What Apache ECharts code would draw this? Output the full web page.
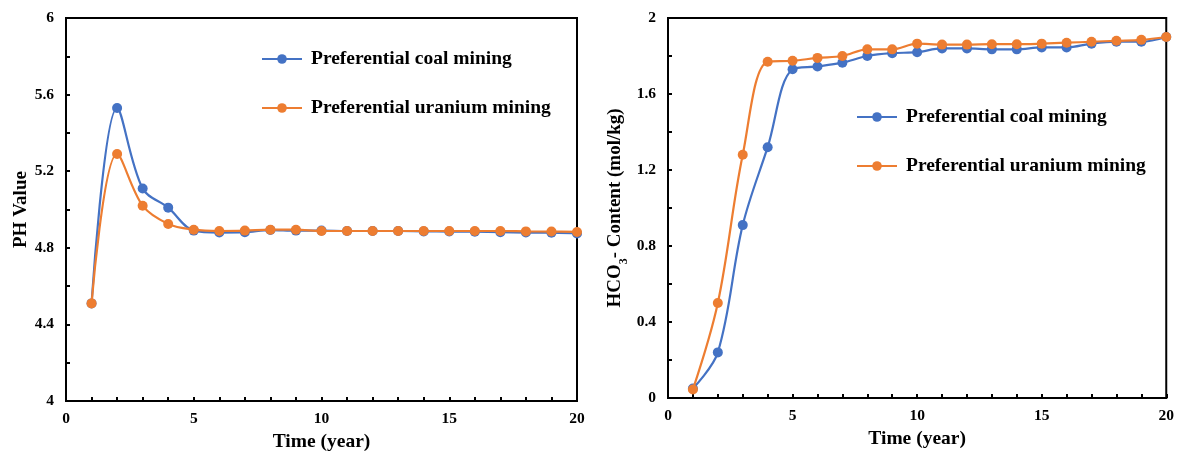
<!DOCTYPE html>
<html><head><meta charset="utf-8">
<script src="https://cdn.jsdelivr.net/npm/echarts@6/dist/echarts.min.js"></script>
<style>html,body{margin:0;padding:0;background:#fff}#c{width:1177px;height:457px}</style>
</head><body><div id="c"></div>
<script>
const years = [1,2,3,4,5,6,7,8,9,10,11,12,13,14,15,16,17,18,19,20];
const phCoal = [4.51,5.53,5.11,5.01,4.89,4.88,4.882,4.893,4.89,4.89,4.888,4.888,4.888,4.886,4.885,4.884,4.882,4.88,4.879,4.875];
const phUranium = [4.51,5.29,5.02,4.925,4.895,4.888,4.89,4.895,4.895,4.888,4.888,4.888,4.888,4.888,4.888,4.888,4.888,4.886,4.885,4.883];
const hcoCoal = [0.05,0.24,0.91,1.32,1.73,1.745,1.765,1.80,1.815,1.82,1.84,1.84,1.835,1.835,1.845,1.845,1.865,1.875,1.875,1.90];
const hcoUranium = [0.045,0.50,1.28,1.77,1.775,1.79,1.80,1.835,1.835,1.865,1.86,1.86,1.862,1.862,1.865,1.87,1.875,1.88,1.885,1.90];
const seriesNames = ['Preferential coal mining','Preferential uranium mining'];
const xTitle = 'Time (year)';
const yTitleLeft = 'PH Value';

const BLUE = '#4472C4', ORANGE = '#ED7D31';
const FONT = '"Liberation Serif", "Times New Roman", serif';
const pair = (xs, ys) => xs.map((x, i) => [x, ys[i]]);

function xAxisCfg(gi){
  return {gridIndex: gi, type:'value', min:0, max:20, interval:5,
    axisLine:{show:true, lineStyle:{color:'#000', width:2}},
    axisTick:{show:true, inside:true, length:4, lineStyle:{color:'#000', width:2}},
    minorTick:{show:true, splitNumber:5, length:4, lineStyle:{color:'#000', width:2}},
    axisLabel:{color:'#000', fontFamily:FONT, fontWeight:'bold', fontSize:15.5, margin:10},
    splitLine:{show:false},
    name:xTitle, nameLocation:'middle', nameGap:30,
    nameTextStyle:{color:'#000', fontFamily:FONT, fontWeight:'bold', fontSize:19.5}};
}
function yAxisCfg(gi, min, max, interval, name, nameGap, rich){
  return {gridIndex: gi, type:'value', min:min, max:max, interval:interval,
    axisLine:{show:true, lineStyle:{color:'#000', width:2}},
    axisTick:{show:true, inside:true, length:4, lineStyle:{color:'#000', width:2}},
    minorTick:{show:true, splitNumber:2, length:4, lineStyle:{color:'#000', width:2}},
    axisLabel:{color:'#000', fontFamily:FONT, fontWeight:'bold', fontSize:15.5, margin:12},
    splitLine:{show:false},
    name:name, nameLocation:'middle', nameGap:nameGap,
    nameTextStyle:{color:'#000', fontFamily:FONT, fontWeight:'bold', fontSize:19, rich:rich}};
}
function lineSeries(name, data, color, xi){
  return {name:name, type:'line', xAxisIndex:xi, yAxisIndex:xi, data:data, smooth:0.35,
    symbol:'circle', symbolSize:10, showSymbol:true,
    lineStyle:{color:color, width:2.2}, itemStyle:{color:color}, z:color===ORANGE?3:2};
}
const richSub = {
  sub:{fontFamily:FONT, fontWeight:'bold', fontSize:12, color:'#000', verticalAlign:'bottom', padding:[0,0,-5,0]},
  base:{fontFamily:FONT, fontWeight:'bold', fontSize:19, color:'#000'}
};
const legendText = {color:'#000', fontFamily:FONT, fontWeight:'bold', fontSize:19.5, padding:[0,0,0,4]};

const chart = echarts.init(document.getElementById('c'), null, {renderer:'canvas'});
chart.setOption({
  animation:false,
  backgroundColor:'#fff',
  grid:[
    {left:66, right:600, top:18, bottom:55, show:true, borderColor:'#000', borderWidth:2, backgroundColor:'transparent'},
    {left:668, right:10, top:18, bottom:59, show:true, borderColor:'#000', borderWidth:2, backgroundColor:'transparent'}
  ],
  legend:[
    {orient:'vertical', left:261, top:49, padding:0, itemWidth:40, itemHeight:12, itemGap:29,
      data:seriesNames.map(n=>({name:n})), textStyle:legendText},
    {orient:'vertical', left:856, top:107, padding:0, itemWidth:40, itemHeight:12, itemGap:29,
      data:seriesNames.map(n=>({name:n+' '})), textStyle:legendText,
      formatter: n => n.trim()}
  ],
  xAxis:[xAxisCfg(0), xAxisCfg(1)],
  yAxis:[
    yAxisCfg(0, 4, 6, 0.4, yTitleLeft, 34),
    yAxisCfg(1, 0, 2, 0.4, '{base|HCO}{sub|3}{base|- Content (mol/kg)}', 43, richSub)
  ],
  series:[
    lineSeries(seriesNames[0], pair(years, phCoal), BLUE, 0),
    lineSeries(seriesNames[1], pair(years, phUranium), ORANGE, 0),
    lineSeries(seriesNames[0]+' ', pair(years, hcoCoal), BLUE, 1),
    lineSeries(seriesNames[1]+' ', pair(years, hcoUranium), ORANGE, 1)
  ]
});
</script></body></html>
